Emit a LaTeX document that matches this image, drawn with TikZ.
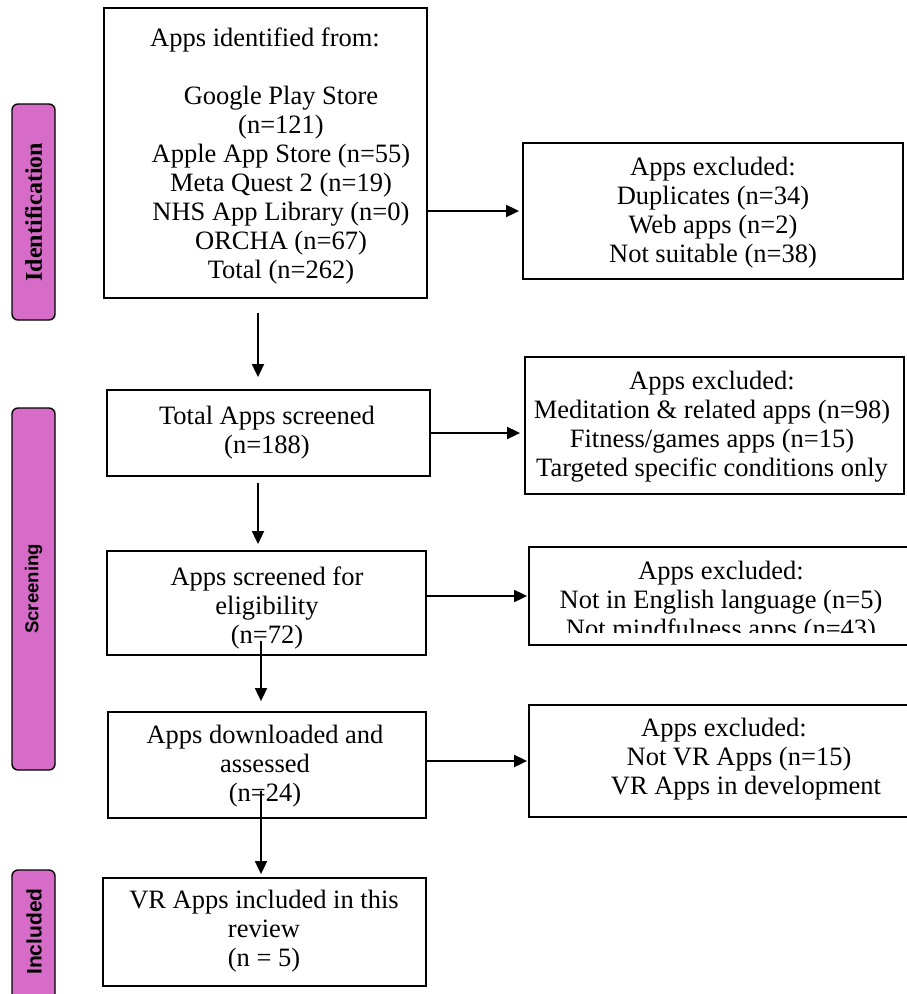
\documentclass[tikz,border=0pt]{standalone}
\usepackage{fontspec}
\setmainfont{Liberation Serif}
\newfontfamily\sansfam{Liberation Sans}
\usetikzlibrary{arrows.meta}
\definecolor{pill}{RGB}{214,108,200}
\begin{document}
\begin{tikzpicture}[x=1pt,y=-1pt,
  box/.style={draw, line width=1.8pt, inner sep=0pt},
  txt/.style={font=\fontsize{26.5}{29}\selectfont, align=center, inner sep=0pt},
  arr/.style={-{Triangle[length=13pt,width=12pt]}, line width=1.8pt},
  phase/.style={draw, line width=1.4pt, fill=pill, rounded corners=6pt, inner sep=0pt}]
\useasboundingbox[fill=white] (0,0) rectangle (906,994);

% phase pills
\node[phase, rotate=90, minimum width=216pt, minimum height=43pt] (p1) at (33.5,212)
  {\fontsize{24}{24}\selectfont\bfseries Identification};
\node[phase, rotate=90, minimum width=362pt, minimum height=43pt] (p2) at (33.5,589)
  {\sansfam\fontsize{18.6}{18.6}\selectfont\bfseries Screening};
\node[phase, rotate=90, minimum width=140pt, minimum height=43pt] (p3) at (33.5,940) {};
\node[rotate=90, inner sep=0pt] (p3t) at (34,931.5)
  {\sansfam\fontsize{21}{21}\selectfont\bfseries Included};

% main boxes
\node[box, minimum width=323pt, minimum height=290pt] (b1) at (265.5,153) {};
\node[box, minimum width=323pt, minimum height=86pt]  (b2) at (268.5,433) {};
\node[box, minimum width=319pt, minimum height=104pt] (b3) at (266.5,603) {};
\node[box, minimum width=318pt, minimum height=106pt] (b4) at (267,765) {};
\node[box, minimum width=323pt, minimum height=108pt] (b5) at (264.5,932) {};

% exclusion boxes
\node[box, minimum width=380pt, minimum height=136pt] (e1) at (713,211) {};
\node[box, minimum width=379pt, minimum height=137pt] (e2) at (714.5,425.5) {};
\node[box, minimum width=386pt, minimum height=98pt]  (e3) at (722,596) {};
\node[box, minimum width=386pt, minimum height=112pt] (e4) at (722,761) {};

% texts
\node[txt] (t1a) at (265,40) {Apps identified from:};
\node[txt] (t1b) at (281,185) {Google Play Store\\(n=121)\\Apple App Store (n=55)\\Meta Quest 2 (n=19)\\NHS App Library (n=0)\\ORCHA (n=67)\\Total (n=262)};
\node[txt] (t2) at (267,433) {Total Apps screened\\(n=188)};
\node[txt] (t3) at (267,608) {Apps screened for\\eligibility\\(n=72)};
\node[txt] (t4) at (265,766) {Apps downloaded and\\assessed\\(n=24)};
\node[txt] (t5) at (264,931) {VR Apps included in this\\review\\(n = 5)};
\node[txt] (te1) at (713,213) {Apps excluded:\\Duplicates (n=34)\\Web apps (n=2)\\Not suitable (n=38)};
\node[txt] (te2) at (712,426.5) {Apps excluded:\\Meditation \& related apps (n=98)\\Fitness/games apps (n=15)\\Targeted specific conditions only};
\begin{scope}
  \clip (529,549) rectangle (906,632);
  \node[txt] (te3) at (721,602) {Apps excluded:\\Not in English language (n=5)\\Not mindfulness apps (n=43)};
\end{scope}
\node[txt] (te4) at (724,759) {Apps excluded:\\\hspace*{30pt}Not VR Apps (n=15)\\\hspace*{44pt}VR Apps in development};

% vertical connectors
\coordinate (v1) at (258,0);
\coordinate (v2) at (261,0);
\draw[arr, shorten <=14pt, shorten >=12pt] (v1 |- b1.south) -- (v1 |- b2.north);
\draw[arr, shorten <=6pt, shorten >=6pt] (v1 |- b2.south) -- (v1 |- b3.north);
\draw[arr, shorten >=10pt] ([yshift=15pt]b3.south -| v2) -- (v2 |- b4.north);
\draw[arr, shorten >=3pt] ([yshift=28pt]b4.south -| v2) -- (v2 |- b5.north);

% horizontal connectors
\draw[arr, shorten >=3pt] (b1.east |- e1.west) -- (e1.west);
\draw[arr, shorten >=4pt] (b2.east) -- (b2.east -| e2.west);
\draw[arr, shorten >=1pt] (b3.east |- e3.west) -- (e3.west);
\draw[arr, shorten >=1pt] (b4.east |- e4.west) -- (e4.west);
\end{tikzpicture}
\end{document}
